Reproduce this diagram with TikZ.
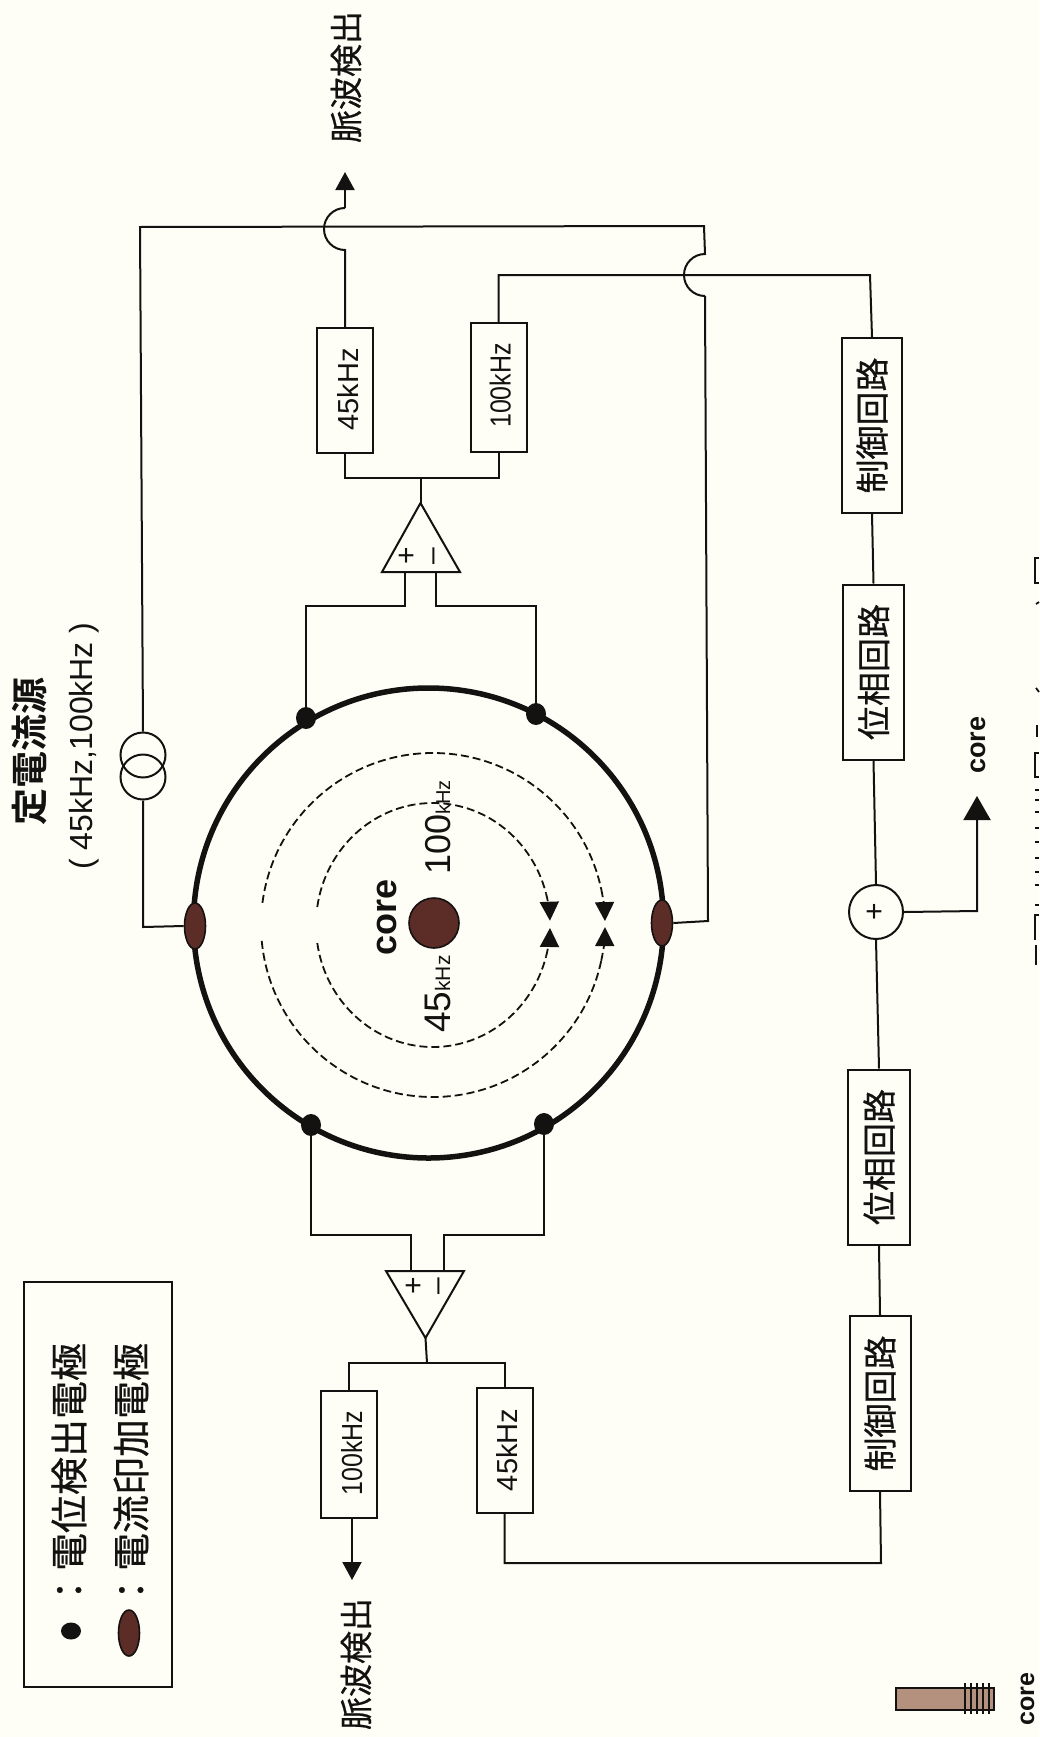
\documentclass[tikz,border=0pt]{standalone}
\usepackage{fontspec}
\setmainfont{Liberation Sans}
\newfontfamily\cjk[FakeBold=0.6]{Noto Sans CJK JP}
\newfontfamily\cjkb{Noto Sans CJK JP Bold}
\usetikzlibrary{arrows.meta,shapes.geometric}
\definecolor{paper}{HTML}{FEFDF6}
\definecolor{brownfill}{HTML}{5C2C26}
\definecolor{rodfill}{HTML}{B4917F}
\definecolor{inkc}{HTML}{141210}
\newcommand{\fsz}[1]{\fontsize{#1}{#1}\selectfont}
\tikzset{
  wire/.style={draw=inkc,line width=2pt},
  tipw/.style={-{Triangle[length=18pt,width=19pt]}},
  boxn/.style={draw=inkc,line width=2pt,fill=paper,inner sep=0pt,minimum width=#1},
  boxn/.default=56pt,
  vtxt/.style={rotate=90,inner sep=0pt,text=inkc},
  dotn/.style={ellipse,fill=inkc,inner sep=0pt,minimum width=20pt,minimum height=22pt},
  elec/.style={ellipse,draw=inkc,line width=1.6pt,fill=brownfill,inner sep=0pt,minimum width=21pt,minimum height=46pt},
  ringw/.style={draw=inkc,line width=1.8pt,dash pattern=on 8pt off 4pt},
  ringtip/.style={-{Triangle[length=19pt,width=19pt]}}
}
\begin{document}
\begin{tikzpicture}[x=1pt,y=-1pt]
\useasboundingbox (0,0) rectangle (1039,1737);
\fill[paper] (0,0) rectangle (1039,1737);

% main ring and electrodes
\node[circle,draw=inkc,line width=5.5pt,minimum size=470pt,inner sep=0pt] (ring) at (428.5,923) {};
\node[elec] (eL) at (195,926) {};
\node[elec] (eR) at (662,923) {};
\node[dotn] (dTL) at (306,718) {};
\node[dotn] (dTR) at (536,714) {};
\node[dotn] (dBL) at (311,1125) {};
\node[dotn] (dBR) at (544,1124) {};

% core
\node[circle,draw=inkc,line width=1.6pt,fill=brownfill,minimum size=50pt,inner sep=0pt] (coreC) at (434,923) {};
\node[vtxt,anchor=base,font=\fsz{36}\bfseries] (coreL) at (396,917) {core};
\node[vtxt,anchor=base west] (f45) at (450,1033) {\fsz{37}45\fsz{21}kHz};
\node[vtxt,anchor=base west] (f100) at (450,875) {\fsz{36}100\fsz{20}kHz};

% dashed field rings
\coordinate (cI) at (433,925);
\draw[ringw] (cI) ++(188.5:117 and 122) arc[start angle=188.5,end angle=345,x radius=117,y radius=122];
\draw[ringw,ringtip] (cI) ++(345:117 and 122) arc[start angle=345,end angle=358,x radius=117,y radius=122];
\draw[ringw] (cI) ++(171.5:117 and 122) arc[start angle=171.5,end angle=15,x radius=117,y radius=122];
\draw[ringw,ringtip] (cI) ++(15:117 and 122) arc[start angle=15,end angle=1.4,x radius=117,y radius=122];
\draw[ringw] (cI) ++(187.4:172 and 172) arc[start angle=187.4,end angle=348,radius=172];
\draw[ringw,ringtip] (cI) ++(348:172 and 172) arc[start angle=348,end angle=358.7,radius=172];
\draw[ringw] (cI) ++(174.7:172 and 172) arc[start angle=174.7,end angle=12,radius=172];
\draw[ringw,ringtip] (cI) ++(12:172 and 172) arc[start angle=12,end angle=0.7,radius=172];

% upper amplifier
\coordinate (aTt) at (420.5,503);
\coordinate (aTl) at (382,572);
\coordinate (aTr) at (460,572);
\coordinate (aTp) at (405,572);
\coordinate (aTm) at (436,572);
\draw[wire,line join=miter,fill=paper] (aTt) -- (aTl) -- (aTr) -- cycle;
\node[vtxt,font=\fsz{30}] (plusT) at (408,556) {+};
\node[vtxt,font=\fsz{30}] (minusT) at (437,556) {–};
\draw[wire] (dTL.center) |- (405,606) -- (aTp);
\draw[wire] (dTR.center) |- (436,606) -- (aTm);

% upper filters
\node[boxn,minimum height=125pt] (b45T) at (345,390.5) {};
\node[boxn,minimum height=129pt] (b100T) at (498.5,387.5) {};
\node[vtxt,anchor=base,font=\fsz{29}] (t45T) at (358,389.5) {45kHz};
\node[vtxt,anchor=base,font=\fsz{29}] (t100T) at (510.5,385.5) {\scalebox{.86}[1]{100kHz}};
\coordinate (jT) at (420.5,478);
\draw[wire] (aTt) -- (jT);
\draw[wire] (b45T.south) |- (jT) -| (b100T.south);

% upper outputs with jumps
\coordinate (j1a) at (345,250);
\coordinate (j1b) at (345,208);
\coordinate (outT) at (345,172);
\draw[wire] (b45T.north) -- (j1a) arc[start angle=90,end angle=270,radius=21];
\draw[wire,tipw] (j1b) -- (outT);
\node[vtxt,font=\cjk\fsz{33}] (pT) at (346,77) {脈波検出};

% current source
\node[circle,draw=inkc,line width=2pt,minimum size=45pt,inner sep=0pt] (s1) at (143,755) {};
\node[circle,draw=inkc,line width=2pt,minimum size=45pt,inner sep=0pt] (s2) at (143,777) {};
\coordinate (cTR) at (704,226);
\coordinate (cTL) at (140,227);
\coordinate (j2a) at (705,254);
\coordinate (j2b) at (705,296);
\coordinate (cBR) at (708,921);
\coordinate (cBL) at (143,927);
\draw[wire,line join=miter] (s1.north) -- (cTL) -- (cTR) -- (j2a) arc[start angle=270,end angle=90,radius=21];
\draw[wire] (j2b) -- (cBR) -- (eR.east);
\draw[wire] (s2.south) -- (cBL) -- (eL.west);
\node[vtxt,font=\cjkb\fsz{37}] (csA) at (30,751) {定電流源};
\node[vtxt,anchor=base,font=\fsz{32}] (csB) at (92,746) {(\;45kHz,100kHz\;)};

% lower amplifier
\coordinate (aBt) at (425.5,1338);
\coordinate (aBl) at (386,1271);
\coordinate (aBr) at (464,1271);
\coordinate (aBp) at (411,1271);
\coordinate (aBm) at (444,1271);
\draw[wire,line join=miter,fill=paper] (aBt) -- (aBl) -- (aBr) -- cycle;
\node[vtxt,font=\fsz{30}] (plusB) at (415,1286) {+};
\node[vtxt,font=\fsz{30}] (minusB) at (442,1286) {–};
\draw[wire] (dBL.center) |- (411,1235) -- (aBp);
\draw[wire] (dBR.center) |- (444,1235) -- (aBm);

% lower filters
\node[boxn,minimum height=127pt] (b100B) at (349,1454.5) {};
\node[boxn,minimum height=125pt] (b45B) at (504.5,1450.5) {};
\node[vtxt,anchor=base,font=\fsz{29}] (t100B) at (362,1453) {\scalebox{.86}[1]{100kHz}};
\node[vtxt,anchor=base,font=\fsz{29}] (t45B) at (517,1450) {45kHz};
\coordinate (jB) at (427,1363);
\draw[wire] (aBt) -- (jB);
\draw[wire] (b100B.north) |- (jB) -| (b45B.north);
\coordinate (outB) at (352,1580);
\draw[wire,tipw] (b100B.south -| outB) -- (outB);
\node[vtxt,font=\cjk\fsz{33}] (pB) at (356,1664) {脈波検出};

% control chain
\node[boxn=60pt,minimum height=175pt] (ctlT) at (872,425.5) {};
\node[boxn=61pt,minimum height=175pt] (phT) at (873.5,672) {};
\node[circle,draw=inkc,line width=2pt,minimum size=54pt,inner sep=0pt] (sum) at (876,912) {};
\node[boxn=62pt,minimum height=175pt] (phB) at (879,1157) {};
\node[boxn=61pt,minimum height=175pt] (ctlB) at (880,1403.5) {};
\node[vtxt,font=\cjk\fsz{34}] at (ctlT) {制御回路};
\node[vtxt,font=\cjk\fsz{34}] at (phT) {位相回路};
\node[vtxt,font=\cjk\fsz{34}] at (phB) {位相回路};
\node[vtxt,font=\cjk\fsz{34}] at (ctlB) {制御回路};
\node[vtxt,font=\fsz{30}] (sumP) at (sum) {+};
\draw[wire] (ctlT.south) -- (phT.north);
\draw[wire] (phT.south) -- (sum.north);
\draw[wire] (sum.south) -- (phB.north);
\draw[wire] (phB.south) -- (ctlB.north);
\coordinate (tT) at (870,275);
\draw[wire] (ctlT.north) -- (tT) -- (b100T.north |- tT) -- (b100T.north);
\coordinate (tB) at (881,1563);
\draw[wire] (ctlB.south) -- (tB) -- (b45B.south |- tB) -- (b45B.south);
\coordinate (coreA) at (977,796);
\draw[wire,-{Triangle[length=24pt,width=27pt]}] (sum.east) -- (977,911) -- (coreA);
\node[vtxt,anchor=base,font=\fsz{27}\bfseries] (coreT) at (985,745) {core};

% legend
\node[draw=inkc,line width=2pt,inner sep=0pt,minimum width=148pt,minimum height=405pt,fill=paper] (leg) at (98,1484.5) {};
\node[ellipse,fill=inkc,inner sep=0pt,minimum width=20pt,minimum height=17pt] (legD) at (71,1631) {};
\node[elec] (legE) at (129,1633) {};
\node[vtxt,font=\cjk\fsz{38}] (leg1) at (69,1476) {：電位検出電極};
\node[vtxt,font=\cjk\fsz{38}] (leg2) at (131,1476) {：電流印加電極};

% core sketch
\node[draw=inkc,line width=1.6pt,fill=rodfill,inner sep=0pt,minimum width=98pt,minimum height=22pt] (rod) at (945,1699) {};
\foreach \xx in {965,971,977,983,989}{\draw[inkc,line width=1.6pt] (\xx,1683) -- (\xx,1714);}
\node[vtxt,anchor=base,font=\fsz{25}\bfseries] (rodT) at (1034,1699) {core};

% cut-off caption remnants at the right edge
\draw[inkc,line width=1.8pt] (1039,558) -- (1035,558) -- (1035,583) -- (1039,583);
\draw[inkc,line width=1.8pt] (1036,604) -- (1039,602);
\draw[inkc,line width=1.8pt] (1036,688) -- (1039,692);
\draw[inkc,line width=1.8pt] (1037,725) -- (1037,737);
\draw[inkc,line width=1.8pt] (1039,753) -- (1035,753) -- (1035,777) -- (1039,777);
\foreach \yy in {790,800,812,828,842,858,872,885,905}{\draw[inkc,line width=1.8pt] (1035,\yy) -- (1039,\yy);}
\draw[inkc,line width=1.8pt] (1039,915) -- (1035,915) -- (1035,940);
\draw[inkc,line width=1.8pt] (1036,945) -- (1036,965);
\end{tikzpicture}
\end{document}
